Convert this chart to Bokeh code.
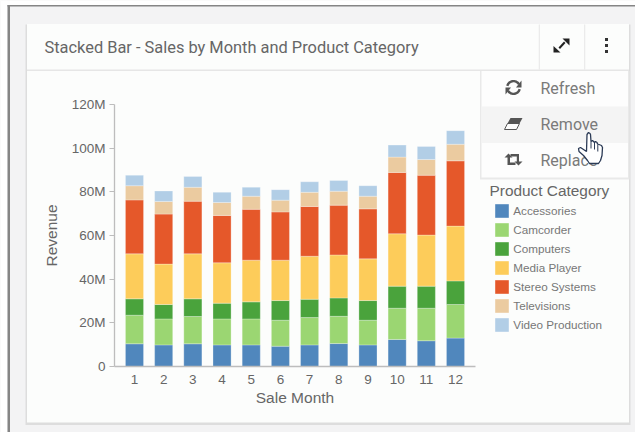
from bokeh.plotting import figure
from bokeh.embed import file_html
from bokeh.resources import INLINE
from bokeh.core.properties import value
from bokeh.models import Legend, LegendItem, FixedTicker, Range1d
import numpy as np

months = [str(i) for i in range(1, 13)]
month_nums = list(range(1, 13))
categories = ["Accessories", "Camcorder", "Computers", "Media Player",
              "Stereo Systems", "Televisions", "Video Production"]
accessories = [10.4, 9.9, 10.4, 9.9, 9.9, 9.3, 9.9, 10.5, 9.9, 12.4, 11.8, 13.0]
camcorder = [13.1, 11.9, 12.5, 11.9, 11.9, 11.9, 12.5, 12.5, 11.3, 14.3, 14.9, 15.4]
computers = [7.5, 6.6, 8.1, 7.2, 7.8, 9.0, 8.4, 8.4, 9.0, 10.1, 10.1, 10.8]
media_player = [20.6, 18.5, 20.6, 18.5, 19.1, 18.5, 19.7, 19.7, 19.1, 24.0, 23.4, 25.1]
stereo_systems = [24.7, 22.9, 24.1, 21.7, 23.3, 22.1, 22.8, 22.8, 22.9, 28.1, 27.4, 29.9]
televisions = [6.5, 5.8, 6.4, 5.9, 6.0, 5.4, 6.5, 6.4, 5.8, 7.0, 7.2, 7.6]
video_production = [4.8, 4.8, 4.9, 4.7, 4.1, 4.8, 4.8, 4.9, 4.8, 5.5, 6.0, 6.2]
colors = ["#5087BD", "#9BD672", "#4AA33C", "#FDCC5A", "#E5582A", "#EBCBA0", "#B2CEE6"]
y_ticks = [0, 20, 40, 60, 80, 100, 120]
y_tick_labels = ["0", "20M", "40M", "60M", "80M", "100M", "120M"]

W, H = 635, 432
L, R, T, B = 114, 475, 104, 366
BG, CARD = "#F3F3F4", "#FCFDFC"
AXF = "Liberation Sans"

# ---------- backdrop figure: page, card, menu, legend (pixel coordinates) ----------
bg = figure(width=W, height=H, output_backend="svg", toolbar_location=None,
            x_range=Range1d(0, W), y_range=Range1d(H, 0), min_border=0,
            background_fill_color=BG, border_fill_color=BG)
bg.axis.visible = False
bg.grid.visible = False
bg.outline_line_color = None
bg.styles = {"position": "absolute", "left": "0px", "top": "0px"}


def box(l, t, r, b, fill):
    return bg.quad(left=[l], right=[r], top=[t], bottom=[b], fill_color=fill, line_color=None)


def poly(xs, ys, fill, line=None, width=1):
    bg.patch(x=list(map(float, xs)), y=list(map(float, ys)), fill_color=fill, line_color=line, line_width=width)


def text(x, y, s, size, color, font="Roboto"):
    bg.text(x=[x], y=[y], text=[s], text_font=value(font), text_font_size=value(f"{size}px"),
            text_color=color, text_baseline="middle")


def arc(cx, cy, r0, r1, a0, a1, fill):
    t = np.radians(np.linspace(a0, a1, 16))
    xs = np.r_[cx + r1 * np.cos(t), cx + r0 * np.cos(t[::-1])]
    ys = np.r_[cy - r1 * np.sin(t), cy - r0 * np.sin(t[::-1])]
    poly(xs, ys, fill)


box(0, 0, 635, 4.5, "#FFFFFF")
box(0, 0, 7, 432, "#FFFFFF")
box(7, 4.5, 635, 6, "#858585")
box(7, 4.5, 9.5, 432, "#858585")
box(25, 24, 630, 424.5, "#DDDDDD")
box(26.5, 23.5, 628.5, 422, CARD)
box(26.5, 69, 628.5, 70.5, "#E6E6E6")
box(538.3, 24, 539.3, 69, "#E6E6E6")
box(583.7, 24, 584.7, 69, "#E6E6E6")

text(44, 46.5, "Stacked Bar - Sales by Month and Product Category", 16.4, "#666666")
K = "#222222"
poly([569, 569, 562], [38, 45, 38], K)
poly([553, 553, 560], [52, 45.5, 52], K)
poly([563.5, 565, 559.5, 558], [41, 42.5, 48.5, 47], K)
for y in (37.5, 43.5, 49.5):
    box(604.5, y, 607.5, y + 3, "#333333")

box(479.5, 70.5, 629, 179, "#E9E9E9")
box(481, 70.5, 627.5, 177, "#FDFDFD")
box(481, 106, 627.5, 142.5, "#F4F4F4")
text(540, 88, "Refresh", 16, "#7A7A7A")
text(540, 123.5, "Remove", 16, "#7A7A7A")
text(540, 160, "Replace", 16, "#7A7A7A")
G = "#555555"
arc(513, 87, 5.2, 7.6, 30, 165, G)
arc(513, 87, 5.2, 7.6, 210, 345, G)
poly([521, 521, 515.5], [80, 87, 87], G)
poly([505, 505, 510.5], [94, 87, 87], G)
poly([510, 522, 519, 507], [117.5, 117.5, 123, 123], G)
poly([507, 519, 516, 504], [123, 123, 129, 129], "#FDFDFD", G, 1)
poly([504, 508, 512, 509.5, 509.5, 515, 515, 507, 507], [157, 153, 157, 157, 162, 162, 164.5, 164.5, 157], G)
poly([510, 518.5, 518.5, 522, 518, 514, 516.3, 516.3, 510], [153.5, 153.5, 161, 161, 165, 161, 161, 156, 156], G)

hx = [586, 586.5, 588, 589.5, 590, 590.5, 592, 593, 594, 595, 596.5, 597, 598.5, 601, 602, 601.5, 600,
      598, 589, 587, 583, 578.5, 578, 580, 583, 586]
hy = [151, 134, 132, 133, 134, 141, 140, 141, 142, 141, 142, 143.5, 144, 145, 147, 155, 160,
      163, 163, 160, 155, 151, 148, 147, 149, 151]
poly(hx, hy, "#FFFFFF", "#2B3A55", 1.3)
for fx, fy in ((590.5, 141), (594, 142), (597.3, 144)):
    bg.line(x=[fx, fx], y=[fy, fy + 7], line_color="#2B3A55", line_width=1)

text(489, 190, "Product Category", 15.4, "#666666", font=AXF)
# legend keys: quads kept off the visible range, only their legend swatches show
swatches = [box(-60, -60, -40, -40, c) for c in colors]
legend = Legend(items=[LegendItem(label=c, renderers=[r]) for c, r in zip(categories, swatches)],
                location=(493.3, H - 332.8), orientation="vertical",
                background_fill_alpha=0, border_line_alpha=0,
                glyph_width=17, glyph_height=17, spacing=2, padding=0, margin=0,
                label_standoff=3, label_text_font=AXF, label_text_font_size="11.7px",
                label_text_color="#777777", label_height=14)
bg.add_layout(legend, "center")

# ---------- the chart ----------
p = figure(width=W, height=H, output_backend="svg", toolbar_location=None,
           x_range=Range1d(0.315, 12.685), y_range=Range1d(0, 120),
           frame_width=R - L, frame_height=B - T,
           min_border_left=L, min_border_right=W - R, min_border_top=T, min_border_bottom=H - B,
           x_axis_label="Sale Month", y_axis_label="Revenue",
           background_fill_alpha=0, border_fill_alpha=0)
p.styles = {"position": "absolute", "left": "0px", "top": "0px"}
p.outline_line_color = None
p.grid.visible = False

source = dict(x=month_nums, Accessories=accessories, Camcorder=camcorder, Computers=computers)
source["Media Player"] = media_player
source["Stereo Systems"] = stereo_systems
source["Televisions"] = televisions
source["Video Production"] = video_production
p.vbar_stack(categories, x="x", width=0.62, color=colors, source=source,
             line_color="#FFFFFF", line_alpha=0.35, line_width=0.8)

xa, ya = p.xaxis[0], p.yaxis[0]
xa.ticker = FixedTicker(ticks=month_nums)
xa.major_label_overrides = {n: s for n, s in zip(month_nums, months)}
ya.ticker = FixedTicker(ticks=y_ticks)
ya.major_label_overrides = {n: s for n, s in zip(y_ticks, y_tick_labels)}
for a in (xa, ya):
    a.axis_line_color = "#BDBDBD"
    a.axis_line_width = 1.3
    a.major_label_text_font = AXF
    a.major_label_text_font_size = "13.5px"
    a.major_label_text_color = "#666666"
    a.axis_label_text_font = AXF
    a.axis_label_text_font_size = "15.5px"
    a.axis_label_text_font_style = "normal"
    a.axis_label_text_color = "#666666"
    a.minor_tick_line_color = None
xa.major_tick_line_color = None
xa.major_label_standoff = 2
xa.axis_label_standoff = 2
ya.major_tick_line_color = "#BDBDBD"
ya.major_tick_out = 5
ya.major_tick_in = 0
ya.major_label_standoff = 4
ya.axis_label_standoff = 9

open("out.html", "w").write(file_html((bg, p), INLINE))
